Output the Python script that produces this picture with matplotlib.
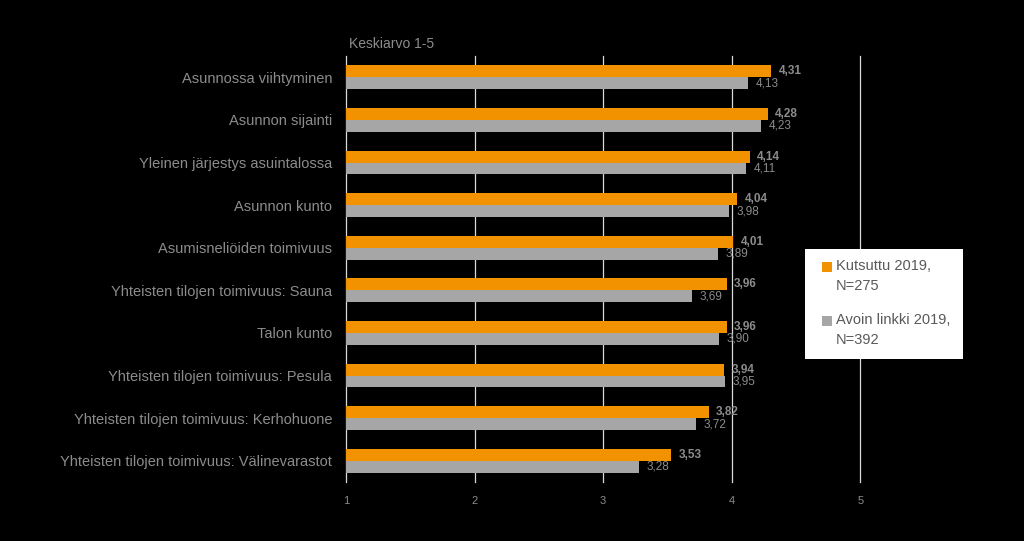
import numpy as np
import matplotlib
matplotlib.use("Agg")
import matplotlib.pyplot as plt
from matplotlib.patches import Rectangle

categories = [
    "Asunnossa viihtyminen",
    "Asunnon sijainti",
    "Yleinen järjestys asuintalossa",
    "Asunnon kunto",
    "Asumisneliöiden toimivuus",
    "Yhteisten tilojen toimivuus: Sauna",
    "Talon kunto",
    "Yhteisten tilojen toimivuus: Pesula",
    "Yhteisten tilojen toimivuus: Kerhohuone",
    "Yhteisten tilojen toimivuus: Välinevarastot",
]
kutsuttu = [4.31, 4.28, 4.14, 4.04, 4.01, 3.96, 3.96, 3.94, 3.82, 3.53]
avoin = [4.13, 4.23, 4.11, 3.98, 3.89, 3.69, 3.90, 3.95, 3.72, 3.28]
series_names = ["Kutsuttu 2019,\nN=275", "Avoin linkki 2019,\nN=392"]
xticks = [1, 2, 3, 4, 5]

orange = "#f39200"
grey = "#a6a6a6"
text_col = "#8c8c8c"

plt.rcParams['font.family'] = ['Liberation Sans', 'DejaVu Sans']

fig = plt.figure(figsize=(10.24, 5.41), dpi=100, facecolor="black")
ax = fig.add_axes([0.338, 0.109, 0.502, 0.7875])
ax.set_facecolor("black")

y = np.arange(len(categories))
h = 0.28
ax.barh(y - h / 2, np.array(kutsuttu) - 1, left=1, height=h, color=orange, zorder=3)
ax.barh(y + h / 2, np.array(avoin) - 1, left=1, height=h, color=grey, zorder=3)

def fmt(v):
    return f"{v:.2f}".replace(".", ",")

for i in range(len(categories)):
    ax.text(kutsuttu[i] + 0.06, y[i] - h / 2, fmt(kutsuttu[i]), va="center", ha="left",
            fontsize=8.5, fontweight="bold", color=text_col)
    ax.text(avoin[i] + 0.06, y[i] + h / 2, fmt(avoin[i]), va="center", ha="left",
            fontsize=8.5, color=text_col)

ax.set_xlim(1, 5)
ax.set_ylim(len(categories) - 0.5, -0.5)
ax.set_xticks(xticks)
ax.set_xticklabels([str(t) for t in xticks])
ax.set_yticks(y)
ax.set_yticklabels(categories)
ax.tick_params(axis="x", length=0, colors=text_col, labelsize=8, pad=10)
ax.tick_params(axis="y", length=0, colors=text_col, labelsize=10.5, pad=10)
for t in xticks:
    ax.axvline(t, color="#d9d9d9", linewidth=0.9, zorder=0, clip_on=False)
for s in ["top", "right", "bottom", "left"]:
    ax.spines[s].set_visible(False)

fig.text(0.341, 0.918, "Keskiarvo 1-5", color=text_col, fontsize=10, va="center", ha="left")

# legend drawn by hand so the squares sit beside the first text line
W, H = 1024, 541
fig.patches.append(Rectangle((805 / W, 1 - 359 / H), 158 / W, 110 / H,
                             transform=fig.transFigure, facecolor="white",
                             edgecolor="none", zorder=5))
colors = [orange, grey]
tops = [262, 316]
for name, c, top in zip(series_names, colors, tops):
    fig.patches.append(Rectangle((822 / W, 1 - (top + 10) / H), 10 / W, 10 / H,
                                 transform=fig.transFigure, facecolor=c,
                                 edgecolor="none", zorder=6))
    fig.text(836 / W, 1 - (top - 3) / H, name, color="#595959", fontsize=10.5,
             va="top", ha="left", linespacing=1.55, zorder=7)

fig.savefig("out.png", dpi=100, facecolor="black")
